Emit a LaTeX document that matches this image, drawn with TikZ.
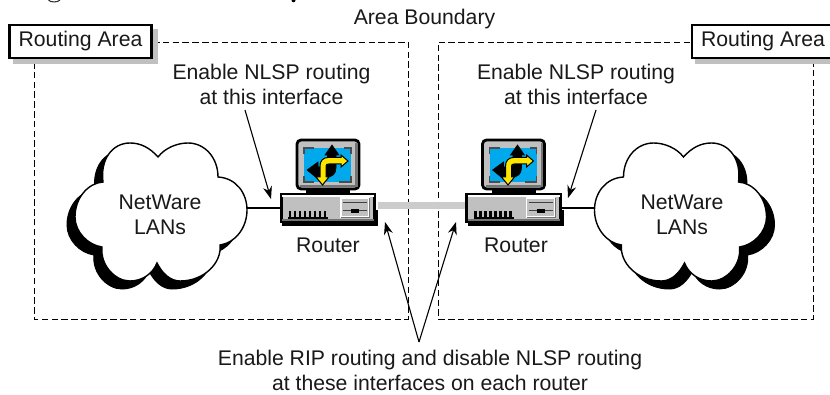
\documentclass[tikz,border=0pt]{standalone}
\usepackage{fontspec}
\setmainfont{Liberation Sans}
\usetikzlibrary{arrows.meta}
\definecolor{scrblue}{HTML}{00A9EC}
\definecolor{arrowyel}{HTML}{FFE600}
\definecolor{boxgray}{HTML}{C0C0C0}
\definecolor{linkgray}{HTML}{CCCCCC}
\tikzset{
  lbl/.style={font=\fontsize{21.2}{25}\selectfont,align=center,inner sep=0pt,text=black!90},
  arealine/.style={line width=0.85pt,dash pattern=on 6.5pt off 3.3pt},
  areatag/.style={draw=black,line width=2.8pt,fill=white,minimum height=33pt,inner sep=0pt},
  tagshadow/.style={fill=boxgray,draw=none},
  wire/.style={line width=1.6pt},
  pointer/.style={line width=1.1pt,-{Stealth[length=12.5pt,width=9pt]}},
  chassis/.style={draw=black,line width=2.8pt,fill=boxgray,minimum width=93.5pt,minimum height=27.5pt,inner sep=0pt},
  cloudbody/.style={draw=black,line width=1.4pt,fill=white},
  cloudshadow/.style={fill=black,draw=black,line width=1pt},
  arrowblack/.style={fill=black,draw=black,line width=0.6pt,line join=miter},
  arrowyellow/.style={fill=arrowyel,draw=black,line width=1pt,line join=miter},
}
\newcommand{\cloudoutline}{(103,182) .. controls (100,160) and (112,143) .. (130,143)
  .. controls (141,143) and (150,148) .. (158,157)
  .. controls (165,148) and (177,143) .. (188,143)
  .. controls (205,143) and (218,158) .. (218,177)
  .. controls (236,178) and (247,193) .. (247,210)
  .. controls (247,228) and (235,243) .. (220,245)
  .. controls (222,262) and (205,281) .. (180,281)
  .. controls (170,281) and (162,273) .. (157,263)
  .. controls (153,273) and (143,281) .. (130,281)
  .. controls (115,281) and (100,265) .. (102,247)
  .. controls (88,245) and (75,232) .. (75,217)
  .. controls (75,198) and (88,183) .. (103,182) -- cycle}
\newcommand{\cloudshape}{%
  \path[cloudshadow,shift={(-8,8)}] \cloudoutline;
  \path[cloudbody] \cloudoutline;}
\newcommand{\routericon}{%
  % monitor
  \fill[black] (306,188) rectangle (350,195);
  \draw[line width=2.8pt,rounded corners=4pt,fill=boxgray] (297,140) rectangle (359,189);
  \fill[black!55] (355,143) rectangle (357.5,187);
  \fill[black!55] (300,185) rectangle (357.5,187.5);
  \fill[scrblue] (304,148) rectangle (351,182);
  \draw[black!70,line width=1.2pt] (304,154) -- (304,148) -- (314,148);
  \draw[black!70,line width=1.2pt] (351,154) -- (351,148) -- (344,148);
  \draw[black!70,line width=1.2pt] (304,176) -- (304,182) -- (314,182);
  \draw[black!70,line width=1.2pt] (351,176) -- (351,182) -- (339,182);
  % black arrows
  \path[arrowblack] (332,145) -- (339,155) -- (336,155) -- (336,168)
     .. controls (336,174) and (332,177) .. (327,177) -- (318,177) -- (318,179) -- (307,170)
     -- (318,162) -- (318,167) -- (327,167) -- (327.5,164) -- (327.5,155) -- (325,155) -- cycle;
  % yellow arrows
  \path[arrowyellow] (348,161) -- (341,155) -- (341,157.5) -- (328,157.5)
     .. controls (323,157.5) and (320,161) .. (320,166) -- (320,177) -- (316,177) -- (322.5,185)
     -- (329,177) -- (326,177) -- (326,166) .. controls (326,164.5) and (327,164) .. (329,164)
     -- (341,164) -- (341,167) -- cycle;
}
\newcommand{\routerfront}{%
  \fill[white] (282,195.5) rectangle (374,197.5);
  \fill[black!55] (282,219) rectangle (374,221);
  \foreach \vx in {288.5,293.5,...,326}{\fill[black] (\vx,211) rectangle (\vx+2.6,218);}
  \fill[black] (288,217) rectangle (328,219);
  \draw[white,line width=1.1pt,fill=boxgray] (341,198) rectangle (369,217);
  \draw[black!75,line width=1pt] (343,203) -- (367,203);
  \draw[black!75,line width=1pt] (343,211) -- (367,211);
  \fill[black] (351,209) rectangle (359,213);
  \draw[black!55,line width=1pt] (369.5,198) -- (369.5,217.5) -- (341,217.5);
}
\begin{document}
\begin{tikzpicture}[x=1pt,y=-1pt]
\useasboundingbox (0,0) rectangle (830,395);
\clip (0,0) rectangle (830,395);
\fill[white] (0,0) rectangle (830,395);
% fragments of cut-off line at the top edge
\draw[line width=1.1pt,black!80] (48.5,0) .. controls (50,2.6) and (58,2.6) .. (60,0);
\fill[black] (293.5,0.3) circle (2pt);
% area boundaries
\coordinate (tlA) at (153,42);
\coordinate (trA) at (408,42);
\coordinate (brA) at (408,319);
\coordinate (blA) at (34,319);
\coordinate (tlAb) at (34,64);
\draw[arealine] (tlA) -- (trA) -- (brA) -- (blA) -- (tlAb);
\coordinate (tlB) at (690,42);
\coordinate (trB) at (438,42);
\coordinate (brB) at (438,319);
\coordinate (blB) at (813,319);
\coordinate (tlBb) at (813,64);
\draw[arealine] (tlB) -- (trB) -- (brB) -- (blB) -- (tlBb);
% area tags
\fill[tagshadow] (13,29) rectangle (158,64);
\node[areatag,lbl,minimum width=142pt] (tagA) at (80.5,41.5) {Routing Area};
\fill[tagshadow] (695,29) rectangle (840,64);
\node[areatag,lbl,minimum width=142pt] (tagB) at (763,41.5) {Routing Area};
% links behind the routers
\coordinate (cloudAe) at (247,208);
\coordinate (cloudBw) at (594.5,208);
% clouds
\cloudshape
\begin{scope}[shift={(841.5,0)},xscale=-1]
\cloudshape
\end{scope}
\node[lbl] (cloudA) at (160,215) {NetWare\\LANs};
\node[lbl] (cloudB) at (682,215) {NetWare\\LANs};
% routers
\fill[black] (282,210) rectangle (378,226);
\fill[black] (467.5,210) rectangle (563.5,226);
\routericon
\begin{scope}[shift={(185.5,0)}]\routericon\end{scope}
\node[chassis] (routerA) at (328,208) {};
\node[chassis] (routerB) at (513.5,208) {};
\routerfront
\begin{scope}[shift={(185.5,0)}]\routerfront\end{scope}
% links
\draw[wire] (cloudAe) -- (routerA.west);
\draw[wire] (routerB.east) -- (cloudBw);
\draw[line width=7pt,linkgray] ([yshift=2.5pt,xshift=2pt]routerA.east) -- ([yshift=2.5pt]routerB.west);
% labels
\node[lbl] (areab) at (424.5,19) {Area Boundary};
\node[lbl] (noteA) at (271.5,84) {Enable NLSP routing\\at this interface};
\node[lbl] (noteB) at (576,84) {Enable NLSP routing\\at this interface};
\node[lbl] (labA) at (328,245) {Router};
\node[lbl] (labB) at (516,245) {Router};
\node[lbl] (noteC) at (430,370) {Enable RIP routing and disable NLSP routing\\at these interfaces on each router};
% pointers
\coordinate (pA0) at (245,110);
\coordinate (pA1) at (271,199);
\coordinate (pB0) at (596,110);
\coordinate (pB1) at (568,198);
\coordinate (apex) at (419,342);
\coordinate (pC1) at (385,222);
\coordinate (pC2) at (456,222);
\draw[pointer] (pA0) -- (pA1);
\draw[pointer] (pB0) -- (pB1);
\draw[pointer] (apex) -- (pC1);
\draw[pointer] (apex) -- (pC2);
\end{tikzpicture}
\end{document}
